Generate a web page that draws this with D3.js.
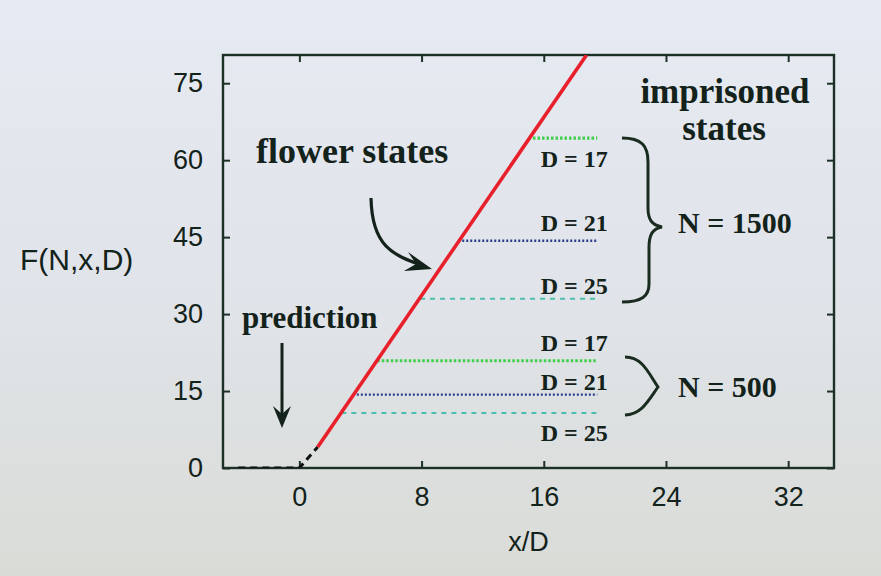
<!DOCTYPE html>
<html>
<head>
<meta charset="utf-8">
<script src="https://cdn.jsdelivr.net/npm/d3@7"></script>
<style>
  html, body { margin: 0; padding: 0; }
  body { width: 881px; height: 576px; overflow: hidden; }
</style>
</head>
<body>
<svg id="chart" width="881" height="576"></svg>
<script>
// Axis ticks
const xTicks = [0, 8, 16, 24, 32];
const yTicks = [0, 15, 30, 45, 60, 75];

// Prediction curve: zero branch and the dashed onset (x/D, F)
const predictionX = [-4, 0, 1.2];
const predictionF = [0, 0, 4.1];

// Flower-state branch (solid red line)
const flowerX = [1.2, 18.8];
const flowerF = [4.1, 80.5];

// Imprisoned states: one horizontal level per (N, D)
const stateN = [1500, 1500, 1500, 500, 500, 500];
const stateD = [17, 21, 25, 17, 21, 25];
const stateF = [64.3, 44.3, 33.0, 20.9, 14.3, 10.7];
const stateXStart = [15.0, 10.4, 7.9, 5.1, 3.5, 2.75];
const stateXEnd = [19.5, 19.5, 19.5, 19.5, 19.5, 19.5];

// Line style per D value
const dStyle = {
  17: { color: "#3fcf4a", width: 3.2, dash: "2.5,2" },
  21: { color: "#2a3f8f", width: 2.4, dash: "2,2" },
  25: { color: "#4cc0b0", width: 2.0, dash: "5,5" }
};
// Vertical offset (px) of each "D = .." label from its line
const labelOffset = [29, -10, -5, -10, -5, 28];

const svg = d3.select("#chart");
const W = 881, H = 576;

// Background
const defs = svg.append("defs");
const bg = defs.append("linearGradient").attr("id", "bg")
  .attr("x1", 0).attr("y1", 0).attr("x2", 0).attr("y2", 1);
bg.append("stop").attr("offset", "0%").attr("stop-color", "#e6eaf2");
bg.append("stop").attr("offset", "55%").attr("stop-color", "#e0e3e8");
bg.append("stop").attr("offset", "100%").attr("stop-color", "#d9dcd6");
svg.append("rect").attr("width", W).attr("height", H).attr("fill", "url(#bg)");

const x = d3.scaleLinear().domain([-5, 35]).range([223, 834]);
const y = d3.scaleLinear().domain([0, 80.5]).range([468, 55]);

const ink = "#13221a";
const axisColor = "#1d3026";
const sans = "'Liberation Sans', Arial, Helvetica, sans-serif";
const serif = "'Liberation Serif', 'Times New Roman', serif";

defs.append("clipPath").attr("id", "plot")
  .append("rect").attr("x", x(-5)).attr("y", y(80.5))
  .attr("width", x(35) - x(-5)).attr("height", y(0) - y(80.5));

// Axes, ticks pointing inward on all four sides
function styleAxis(g) {
  g.select(".domain").remove();
  g.selectAll(".tick line").attr("stroke", axisColor).attr("stroke-width", 2);
  g.selectAll(".tick text").attr("fill", ink).style("font-family", sans).style("font-size", "27px");
}
svg.append("g").attr("transform", `translate(0,${y(0)})`)
  .call(d3.axisBottom(x).tickValues(xTicks).tickSizeInner(-7).tickSizeOuter(0).tickPadding(19))
  .call(styleAxis);
svg.append("g").attr("transform", `translate(0,${y(80.5)})`)
  .call(d3.axisTop(x).tickValues(xTicks).tickSizeInner(-7).tickSizeOuter(0).tickFormat(""))
  .call(styleAxis);
svg.append("g").attr("transform", `translate(${x(-5)},0)`)
  .call(d3.axisLeft(y).tickValues(yTicks).tickSizeInner(-7).tickSizeOuter(0).tickPadding(20))
  .call(styleAxis);
svg.append("g").attr("transform", `translate(${x(35)},0)`)
  .call(d3.axisRight(y).tickValues(yTicks).tickSizeInner(-7).tickSizeOuter(0).tickFormat(""))
  .call(styleAxis);

svg.append("rect")
  .attr("x", x(-5)).attr("y", y(80.5))
  .attr("width", x(35) - x(-5)).attr("height", y(0) - y(80.5))
  .attr("fill", "none").attr("stroke", axisColor).attr("stroke-width", 2.4);

// Axis titles
svg.append("text").attr("x", 20).attr("y", 270)
  .attr("fill", ink).style("font-family", sans).style("font-size", "30px")
  .text("F(N,x,D)");
svg.append("text").attr("x", x(15)).attr("y", 551).attr("text-anchor", "middle")
  .attr("fill", ink).style("font-family", sans).style("font-size", "27px")
  .text("x/D");

const plot = svg.append("g").attr("clip-path", "url(#plot)");
const line = d3.line().x(d => x(d[0])).y(d => y(d[1]));

// Imprisoned-state levels
stateF.forEach((f, i) => {
  const s = dStyle[stateD[i]];
  plot.append("path")
    .attr("d", line([[stateXStart[i], f], [stateXEnd[i], f]]))
    .attr("fill", "none").attr("stroke", s.color)
    .attr("stroke-width", s.width).attr("stroke-dasharray", s.dash);
});

// Prediction: zero branch and dashed onset
plot.append("path")
  .attr("d", line(predictionX.map((v, i) => [v, predictionF[i]])))
  .attr("fill", "none").attr("stroke", "#111").attr("stroke-width", 3)
  .attr("stroke-dasharray", "7,5");

// Flower-state branch
plot.append("path")
  .attr("d", line(flowerX.map((v, i) => [v, flowerF[i]])))
  .attr("fill", "none").attr("stroke", "#e8202c").attr("stroke-width", 3.6);

// "D = .." labels
stateF.forEach((f, i) => {
  svg.append("text")
    .attr("x", x(15.8)).attr("y", y(f) + labelOffset[i])
    .attr("fill", ink).style("font-family", serif).style("font-weight", "bold")
    .style("font-size", "24px")
    .text(`D = ${stateD[i]}`);
});

// Braces grouping the levels by N
svg.append("path")
  .attr("d", "M622,138 C642,138 648,146 648,162 L648,208 C648,220 652,225 662,227 C652,229 649,235 649,248 L649,284 C649,296 642,302 622,302")
  .attr("fill", "none").attr("stroke", "#1a2c20").attr("stroke-width", 3);
svg.append("path")
  .attr("d", "M625,357 C642,357 648,372 658,387 C648,401 642,414 625,415")
  .attr("fill", "none").attr("stroke", "#1a2c20").attr("stroke-width", 3);

// Annotations
function boldText(t, px, py, size, anchor) {
  svg.append("text").attr("x", px).attr("y", py)
    .attr("text-anchor", anchor || "start")
    .attr("fill", ink).style("font-family", serif).style("font-weight", "bold")
    .style("font-size", size + "px").text(t);
}
boldText("flower states", 256, 163, 36);
boldText("prediction", 242, 328, 31);
boldText("imprisoned", 725, 103, 35, "middle");
boldText("states", 724, 140, 35, "middle");
boldText(`N = ${stateN[0]}`, 678, 233, 30);
boldText(`N = ${stateN[3]}`, 678, 397, 30);

// Arrows
svg.append("path").attr("d", "M282,343 L282,418")
  .attr("stroke", ink).attr("stroke-width", 3).attr("fill", "none");
svg.append("path").attr("d", "M273,406 L282,428 L291,406 L282,414 Z").attr("fill", ink);

svg.append("path").attr("d", "M371,198 C372,246 392,255 424,266")
  .attr("stroke", ink).attr("stroke-width", 3.2).attr("fill", "none");
svg.append("path").attr("d", "M408,252 L432,269 L404,271 L416,264 Z").attr("fill", ink);
</script>
</body>
</html>
